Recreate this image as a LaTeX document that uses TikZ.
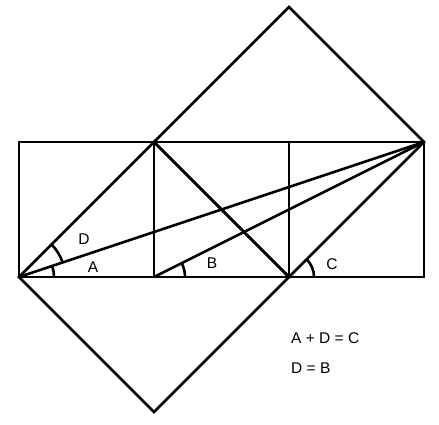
\documentclass[tikz,border=0pt]{standalone}
\usepackage{fontspec}
\setmainfont{Liberation Sans}
\begin{document}
\begin{tikzpicture}[x=1pt,y=1pt,
  edge/.style={line width=2.6pt,line join=miter},
  anglearc/.style={line width=2.6pt},
  lbl/.style={font=\fontsize{15.5}{18}\selectfont,inner sep=0pt}]
\useasboundingbox (0,0) rectangle (439,425);
% grid corners (y flipped: y' = 425 - y)
\coordinate (b1) at (19,148);
\coordinate (b2) at (154,148);
\coordinate (b3) at (289,148);
\coordinate (b4) at (424,148);
\coordinate (t1) at (19,283);
\coordinate (t2) at (154,283);
\coordinate (t3) at (289,283);
\coordinate (t4) at (424,283);
\coordinate (top) at (289,418);
\coordinate (bot) at (154,13);
% squares
\draw[edge] (b1) rectangle (t4);
\draw[edge] (b2) -- (t2);
\draw[edge] (b3) -- (t3);
% upper diamond
\draw[edge] (t2) -- (top) -- (t4) -- (b3) -- cycle;
% lower diamond
\draw[edge] (b1) -- (t2) -- (b3) -- (bot) -- cycle;
% diagonals
\draw[edge] (b1) -- (t4);
\draw[edge] (b2) -- (t4);
% angle arcs
\draw[anglearc] (b1) ++(0:35) arc[start angle=0,end angle=18.43,radius=35];
\draw[anglearc] (b1) ++(18.43:46) arc[start angle=18.43,end angle=45,radius=46];
\draw[anglearc] (b2) ++(0:31) arc[start angle=0,end angle=26.57,radius=31];
\draw[anglearc] (b3) ++(0:25) arc[start angle=0,end angle=45,radius=25];
% labels
\node[lbl] (lD) at (84,186) {D};
\node[lbl] (lA) at (93,158) {A};
\node[lbl] (lB) at (212,162) {B};
\node[lbl] (lC) at (332,161) {C};
\node[lbl,anchor=west] (eq1) at (291,87) {A + D = C};
\node[lbl,anchor=west] (eq2) at (291,57) {D = B};
\end{tikzpicture}
\end{document}
